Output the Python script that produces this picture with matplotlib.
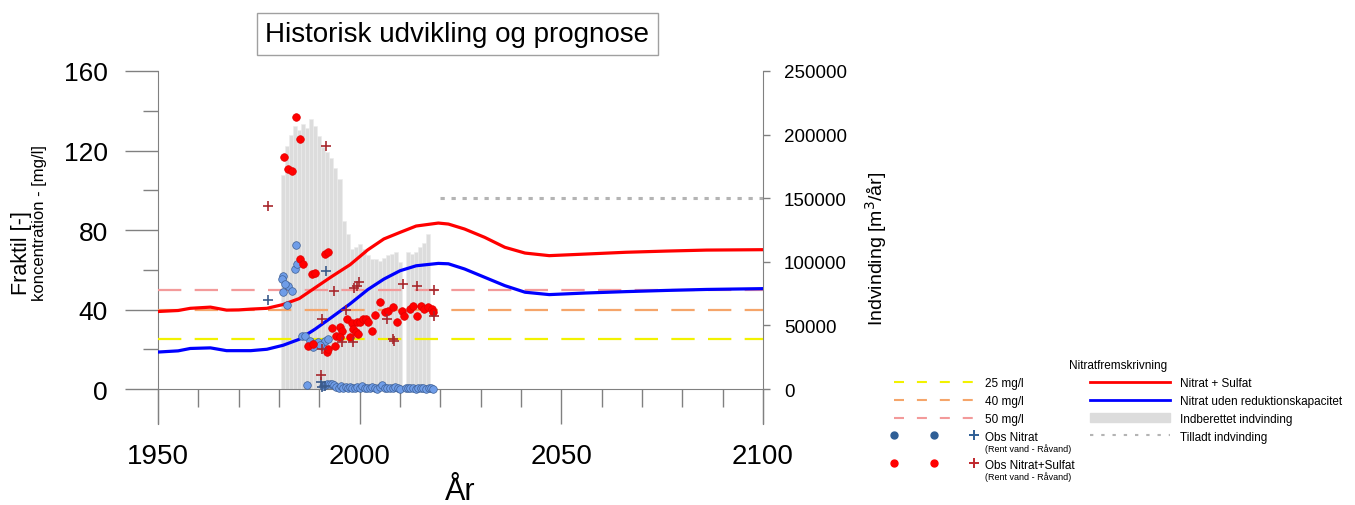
import matplotlib
matplotlib.use("Agg")
import matplotlib.pyplot as plt
from matplotlib.lines import Line2D
from matplotlib.patches import Patch
from matplotlib.legend_handler import HandlerTuple
from matplotlib.ticker import MultipleLocator, FixedLocator

plt.rcParams['font.family'] = ['Liberation Sans', 'DejaVu Sans']

# --- modelkurver (mg/l) ---
model_years = [1950, 1955, 1958, 1963, 1967, 1970, 1973, 1977, 1981, 1985, 1989, 1993,
               1997.6, 2002, 2006, 2010, 2014, 2019.5, 2022, 2026, 2031, 2036, 2041,
               2047, 2056, 2066, 2076, 2086, 2100]
nitrat_sulfat = [39.0, 39.5, 40.6, 41.2, 39.7, 39.8, 40.2, 40.6, 42.5, 45.5, 51.0, 56.5,
                 62.5, 70.0, 75.5, 78.8, 82.0, 83.5, 83.0, 80.5, 76.3, 71.3, 68.4,
                 67.1, 67.9, 68.8, 69.4, 69.9, 70.1]
nitrat_uden = [18.6, 19.2, 20.4, 20.7, 19.3, 19.3, 19.3, 20.0, 22.0, 25.0, 30.2, 36.0,
               42.8, 50.0, 55.3, 59.5, 62.0, 63.2, 63.0, 60.4, 56.2, 52.0, 48.7,
               47.5, 48.3, 49.0, 49.6, 50.1, 50.5]

# --- indberettet indvinding (m3/aar) ---
bar_years = list(range(1981, 2018))
indvinding = [168000, 191000, 200000, 207000, 204000, 208000, 205000, 212000, 207000,
              199000, 190000, 186000, 182000, 174000, 165000, 132000, 122000, 110000,
              112000, 114000, 110000, 105000, 102000, 102000, 101000, 103000, 105000,
              106000, 108000, 100000, 0, 108000, 106000, 108000, 112000, 115000, 122000]

tilladt_years = [2020, 2100]
tilladt = [150000, 150000]

# --- graensevaerdier ---
limits = [25, 40, 50]
limit_labels = ['25 mg/l', '40 mg/l', '50 mg/l']
limit_colors = ['#f2f200', '#f5a56a', '#f39a9a']

# --- observationer ---
obs_n_x = [1984.1, 1981.1, 1980.7, 1982.3, 1983.1, 1980.9, 1981.9, 1981.6, 1984.0, 1984.4,
           1985.6, 1986.4, 1987.7, 1988.5, 1988.4, 1989.7, 1990.6, 1991.4, 1992.2, 1990.2,
           1987.0, 1990.9, 1991.5, 1992.0, 1992.6, 1993.1, 1993.6, 1994.2, 1994.8, 1995.3,
           1995.9, 1996.5, 1997.0, 1997.6, 1998.2, 1998.8, 1999.4, 2000.0, 2000.6, 2001.2,
           2001.8, 2002.5, 2003.1, 2003.7, 2004.4, 2005.0, 2005.6, 2006.3, 2006.9, 2007.5,
           2008.2, 2008.8, 2009.4, 2010.1, 2011.4, 2012.0, 2012.6, 2013.3, 2013.9, 2014.5,
           2015.2, 2015.8, 2016.4, 2017.1, 2017.7, 2018.3]
obs_n_y = [72.5, 57.0, 55.3, 52.0, 49.5, 48.7, 42.5, 52.8, 60.4, 62.9,
           26.8, 26.8, 24.3, 22.6, 21.0, 23.5, 21.8, 24.3, 25.2, 22.0,
           2.0, 1.5, 2.2, 2.5, 2.3, 2.4, 1.8, 1.2, 0.6, 1.4,
           0.5, 0.8, 0.4, 1.0, 0.6, 0.3, 0.9, 0.5, 1.6, 0.4,
           0.7, 0.3, 1.0, 0.5, 0.2, 0.8, 1.8, 0.4, 0.6, 0.3,
           0.5, 1.2, 0.4, 0.2, 0.6, 0.3, 0.5, 0.4, 0.2, 0.6,
           0.3, 0.5, 0.2, 0.4, 0.3, 0.2]
obs_n_plus_x = [1977.3, 1991.6, 1990.4, 1990.6, 1991.3]
obs_n_plus_y = [44.9, 59.5, 3.4, 0.8, 1.5]

obs_ns_x = [1981.2, 1982.3, 1983.1, 1984.1, 1985.2,
            1985.2, 1986.0, 1988.1, 1988.9, 1991.4, 1992.2,
            1987.3, 1988.5, 1991.8, 1992.2, 1993.1, 1994.1, 1995.0, 1993.9, 1995.5,
            1995.1, 1996.9, 1997.6, 1998.0, 1998.4, 1999.1, 1999.4, 1999.7, 2000.1,
            2000.8, 2001.6, 2002.0, 2003.0, 2003.8, 2005.0, 2006.3, 2007.0, 2008.2,
            2009.2, 2010.4, 2011.0, 2012.5, 2013.3, 2014.1, 2015.1, 2016.0, 2017.0,
            2017.9, 2018.2]
obs_ns_y = [116.6, 110.7, 109.8, 136.7, 125.8,
            65.4, 62.9, 57.9, 58.2, 67.9, 68.8,
            21.8, 22.6, 18.4, 20.0, 30.5, 26.8, 31.0, 21.8, 29.3,
            26.0, 35.2, 26.0, 33.0, 30.2, 28.5, 33.5, 27.7, 33.5,
            35.0, 35.2, 33.5, 29.3, 37.2, 43.6, 38.9, 39.4, 41.1,
            33.9, 39.4, 36.9, 40.3, 41.6, 36.6, 41.9, 40.3, 41.1,
            40.3, 39.0]
obs_ns_plus_x = [1977.3, 1991.6, 1990.6, 1993.6, 1998.7, 1999.9, 1999.4, 1996.6, 1995.5,
                 1990.6, 1998.4, 2006.7, 2008.3, 2008.6, 2010.8, 2014.3, 2018.4, 2018.4,
                 1990.4]
obs_ns_plus_y = [91.9, 122.4, 35.2, 49.5, 50.8, 53.7, 52.0, 39.9, 23.5,
                 20.1, 23.5, 35.2, 25.2, 24.3, 52.8, 51.7, 50.0, 36.6,
                 7.0]

W, H = 1355, 506
fig = plt.figure(figsize=(W / 100, H / 100), dpi=100)
ax = fig.add_axes([158 / W, 1 - 425 / H, 605 / W, 353 / H])
ax2 = ax.twinx()

grey = '#808080'

# soejler paa hoejre akse (bagved)
ax2.bar(bar_years, indvinding, width=1.0, color='#dcdcdc', edgecolor='#ececec',
        linewidth=0.4, zorder=1)
ax2.plot(tilladt_years, tilladt, color='#b4b4b4', lw=2.2, ls=(0, (1.4, 2.2)), zorder=2)
ax2.set_ylim(-27500, 250000)
ax2.set_yticks([0, 50000, 100000, 150000, 200000, 250000])
ax2.tick_params(axis='y', direction='out', length=5, width=1, color=grey,
                labelsize=13.5, pad=10)
for s in ['top', 'left', 'bottom']:
    ax2.spines[s].set_visible(False)
ax2.spines['right'].set_color(grey)
ax2.set_ylabel('Indvinding [m$^3$/år]', fontsize=14, labelpad=12)

# venstre akse
ax.set_zorder(ax2.get_zorder() + 1)
ax.patch.set_visible(False)
ax.set_xlim(1950, 2100)
ax.set_ylim(-17.6, 160)

for val, col in zip(limits, limit_colors):
    ax.axhline(val, color=col, lw=1.6, ls=(0, (10.5, 6.0)), zorder=3)

ax.plot(model_years, nitrat_sulfat, color='#ff0000', lw=2.3, zorder=4)
ax.plot(model_years, nitrat_uden, color='#0000ff', lw=2.3, zorder=4)

ax.scatter(obs_n_x, obs_n_y, s=30, color='#6f9de8', edgecolors='#3d5f95',
           linewidths=0.5, zorder=5)
ax.scatter(obs_ns_x, obs_ns_y, s=30, color='#ff0000', edgecolors='#e00000',
           linewidths=0.5, zorder=5)
ax.scatter(obs_n_plus_x, obs_n_plus_y, s=45, marker='+', color='#3b5b8b',
           linewidths=1.2, zorder=6)
ax.scatter(obs_ns_plus_x, obs_ns_plus_y, s=45, marker='+', color='#a8282d',
           linewidths=1.2, zorder=6)

ax.spines['top'].set_visible(False)
ax.spines['right'].set_visible(False)
ax.spines['bottom'].set_position(('data', 0))
ax.spines['bottom'].set_color(grey)
ax.spines['left'].set_color(grey)

ax.xaxis.set_major_locator(FixedLocator([1950, 2000, 2050, 2100]))
ax.xaxis.set_minor_locator(MultipleLocator(10))
ax.yaxis.set_major_locator(MultipleLocator(40))
ax.yaxis.set_minor_locator(MultipleLocator(20))
ax.tick_params(axis='x', which='major', direction='out', length=25, width=1,
               color=grey, labelsize=20, pad=14)
ax.tick_params(axis='x', which='minor', direction='out', length=13, width=1,
               color=grey)
ax.tick_params(axis='y', which='major', direction='out', length=24, width=1,
               color=grey, labelsize=19, pad=12)
ax.tick_params(axis='y', which='minor', direction='out', length=11, width=1,
               color=grey)

ax.set_xlabel('År', fontsize=22, labelpad=5)

fig.text(22 / W, 1 - 253 / H, 'Fraktil [-]', rotation=90, fontsize=15.5,
         ha='center', va='center')
fig.text(40 / W, 1 - 223 / H, 'koncentration - [mg/l]', rotation=90, fontsize=12,
         ha='center', va='center')

fig.text(457.5 / W, 1 - 35 / H, 'Historisk udvikling og prognose', fontsize=20,
         ha='center', va='center',
         bbox=dict(boxstyle='square,pad=0.3', fc='white', ec='#a0a0a0', lw=1))

# legende
leg_dash = (0, (4.8, 6.2))
leg_kw = dict(frameon=False, fontsize=8.5, handlelength=6.8, handletextpad=0.9,
              labelspacing=0.5, borderpad=0, borderaxespad=0,
              handler_map={tuple: HandlerTuple(ndivide=None, pad=3.3)})


def obs_handle(dot_color, plus_color):
    return (Line2D([], [], ls='none', marker='o', ms=5, color=dot_color),
            Line2D([], [], ls='none', marker='o', ms=5, color=dot_color),
            Line2D([], [], ls='none', marker='+', ms=7, mew=1.4, color=plus_color))


handles = [Line2D([], [], color=c, lw=1.5, ls=leg_dash) for c in limit_colors]
labels = list(limit_labels)
handles.append(obs_handle('#2f5f96', '#2f5f96'))
labels.append('Obs Nitrat')
handles += [Line2D([], [], color='#ff0000', lw=2),
            Line2D([], [], color='#0000ff', lw=2),
            Patch(color='#dcdcdc'),
            Line2D([], [], color='#b4b4b4', lw=1.5, ls=(0, (1.6, 3.8)))]
labels += ['Nitrat + Sulfat', 'Nitrat uden reduktionskapacitet',
           'Indberettet indvinding', 'Tilladt indvinding']

leg = fig.legend(handles, labels, loc='upper left', bbox_to_anchor=(894 / W, 1 - 360 / H),
                 ncol=2, columnspacing=4.4, title='Nitratfremskrivning',
                 title_fontsize=8.5, **leg_kw)

fig.canvas.draw()
renderer = fig.canvas.get_renderer()
leg_bb = leg.get_window_extent(renderer)
obs_txt = [t for t in leg.get_texts() if t.get_text() == 'Obs Nitrat'][0]
obs_bb = obs_txt.get_window_extent(renderer)
obs_mid = (obs_bb.y0 + obs_bb.y1) / 2

leg2 = fig.legend([obs_handle('#ff0000', '#c0282d')], ['Obs Nitrat+Sulfat'],
                  loc='upper left',
                  bbox_to_anchor=(leg_bb.x0 / W, (obs_mid - 28 + obs_bb.height / 2) / H),
                  **leg_kw)

fig.canvas.draw()
for lg in (leg, leg2):
    for txt in lg.get_texts():
        if txt.get_text().startswith('Obs'):
            bb = txt.get_window_extent(renderer)
            fig.text(bb.x0 / W, (bb.y0 - 1) / H, '(Rent vand - Råvand)', fontsize=6.5,
                     ha='left', va='top')

fig.savefig('out.png', dpi=100)
